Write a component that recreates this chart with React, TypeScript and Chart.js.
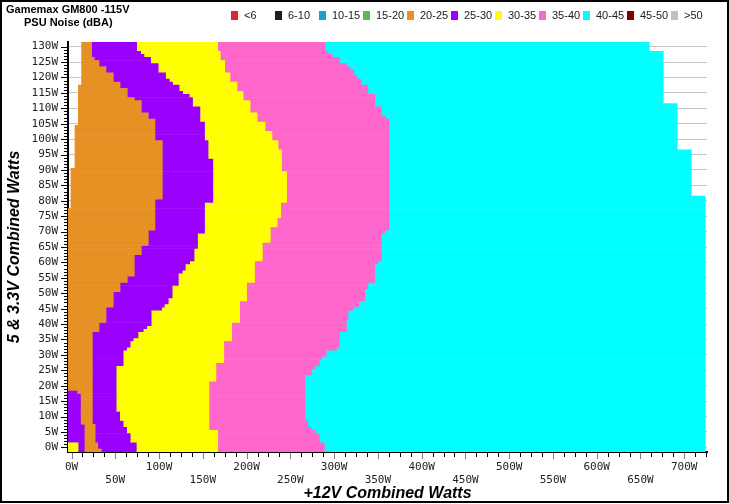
import React, { useEffect, useRef } from 'react';
import { Chart, registerables } from 'chart.js';

Chart.register(...registerables);

// ---------- data ----------
// rows of the 5V & 3.3V combined load (W), bottom to top
const ROW_FIRST = -1;
const ROW_LAST = 131;
const ROWS: number[] = Array.from({ length: ROW_LAST - ROW_FIRST + 1 }, (_, i) => ROW_FIRST + i);

const X_MIN = -4;
const X_MAX = 726;
const X_LABELS = [0, 50, 100, 150, 200, 250, 300, 350, 400, 450, 500, 550, 600, 650, 700];

const NOISE_CLASSES = ['<6', '6-10', '10-15', '15-20', '20-25', '25-30', '30-35', '35-40', '40-45', '45-50', '>50'];
const CLASS_COLORS = ['#e0262b', '#1e1e1e', '#1a9fd0', '#5cb85c', '#e69124', '#9900ff', '#ffff00', '#ff66cc', '#00ffff', '#7f0000', '#c0c0c0'];

// Boundaries on the +12V axis (W), as [from row (W), value] steps going upward.
const yellowLeftEnd: [number, number | null][] = [[-1, 7.5], [2, null]];
const purpleLeftEnd: [number, number | null][] = [[-1, 15.4], [8, 11], [18, 7], [19, null]];
const orangeStart: [number, number][] = [
  [-1, 15.4], [8, 11], [18, 7], [19, -4], [78, -0.6], [91, 4], [105, 7.8], [118, 11.6],
];
const orangeEnd: [number, number][] = [
  [-1, 34], [0, 30], [2, 27], [8, 23.8], [38, 31.4], [41, 39.4], [46, 47.7], [51, 55.4], [54, 63.7],
  [56, 71.7], [63, 79.7], [66, 87.7], [71, 95.3], [81, 103.7], [100, 95.3], [107, 87.7], [109, 79.7],
  [113, 71.7], [114, 63.7], [117, 55.4], [119, 47.7], [122, 39.4], [124, 31.4], [126, 26], [127, 23],
];
const yellowStart: [number, number][] = [
  [-1, 74], [2, 67], [5, 63], [7, 59], [9, 55], [12, 51], [27, 59], [32, 63], [33, 67], [35, 70.5],
  [36, 76], [38, 82], [39, 86], [40, 91], [45, 103], [46, 106], [47, 110.5], [49, 115], [53, 122],
  [57, 126.5], [58, 130], [60, 135], [61, 140], [65, 144], [70, 152], [80, 161.5], [94, 156],
  [100, 152], [106, 146.7], [111, 138.3], [114, 134.5], [115, 127], [116, 123], [118, 115.5],
  [119, 111.7], [120, 107.5], [122, 99], [125, 90.4], [127, 82.8], [128, 79], [129, 74.4],
];
const pinkStart: [number, number][] = [
  [-1, 167], [6, 157], [22, 165], [28, 174], [35, 183], [41, 192], [48, 200], [54, 209], [61, 218],
  [67, 227], [72, 235], [75, 239], [80, 245.7], [90, 240], [97, 236], [100, 229], [103, 221],
  [106, 212], [109, 204], [113, 196], [116, 189], [119, 181], [122, 175], [126, 170], [129, 167],
];
const cyanStart: [number, number][] = [
  [-1, 289], [2, 283], [5, 278], [6, 274], [7, 270], [9, 266.5], [24, 274], [26, 278], [27, 283],
  [29, 286], [30, 291], [32, 303], [33, 306], [38, 314], [42, 316], [45, 322], [46, 328], [48, 335],
  [52, 338.5], [54, 346.5], [60, 350], [61, 354], [70, 358], [71, 362.5], [107, 359], [108, 354],
  [111, 346.5], [115, 338.5], [118, 330.5], [120, 326], [121, 322.5], [123, 318], [124, 314],
  [125, 306.5], [127, 298], [128, 293], [129, 290],
];
const cyanEnd: [number, number][] = [[-1, 724], [82, 708], [97, 692], [112, 676], [129, 660]];

// ---------- helpers ----------
function expand<T>(steps: [number, T][]): T[] {
  return ROWS.map((r) => {
    let v = steps[0][1];
    for (const [from, val] of steps) if (r >= from) v = val;
    return v;
  });
}

const FONT_SANS = '"Liberation Sans", Arial, sans-serif';
const FONT_MONO = '"DejaVu Sans Mono", monospace';

const decorPlugin = {
  id: 'decor',
  beforeDraw(chart: any) {
    const { ctx, width, height } = chart;
    ctx.save();
    ctx.fillStyle = '#ffffff';
    ctx.fillRect(0, 0, width, height);
    ctx.restore();
  },
  afterDraw(chart: any) {
    const { ctx, width, height, chartArea, scales } = chart;
    const x = scales.x;
    const y = scales.y;
    ctx.save();
    // tick marks on y
    ctx.lineWidth = 1;
    ctx.strokeStyle = '#000';
    ROWS.forEach((r, i) => {
      if (r < 0 || r > 130) return;
      const py = Math.round(y.getPixelForValue(i)) + 0.5;
      const len = r % 5 === 0 ? 6 : 3;
      ctx.beginPath();
      ctx.moveTo(chartArea.left - 1 - len, py);
      ctx.lineTo(chartArea.left - 1, py);
      ctx.stroke();
    });
    // tick marks on x
    for (let v = 0; v <= 725; v += 12.5) {
      const px = Math.round(x.getPixelForValue(v)) + 0.5;
      const major = v % 50 === 0;
      ctx.strokeStyle = major ? '#808080' : '#000';
      ctx.beginPath();
      ctx.moveTo(px, chartArea.bottom + 1);
      ctx.lineTo(px, chartArea.bottom + 1 + (major ? 6 : 4));
      ctx.stroke();
    }
    // frame
    ctx.strokeStyle = '#000';
    ctx.lineWidth = 2;
    ctx.strokeRect(1, 1, width - 2, height - 3);
    // title
    ctx.fillStyle = '#000';
    ctx.textBaseline = 'alphabetic';
    ctx.textAlign = 'left';
    ctx.font = `bold 11px ${FONT_SANS}`;
    ctx.fillText('Gamemax GM800 -115V', 6, 12.5);
    ctx.fillText('PSU Noise (dBA)', 24, 25.5);
    // legend
    ctx.font = `11px ${FONT_SANS}`;
    ctx.textBaseline = 'middle';
    NOISE_CLASSES.forEach((label, i) => {
      const bx = 231 + 44 * i;
      ctx.fillStyle = CLASS_COLORS[i];
      ctx.fillRect(bx, 11, 7, 9);
      ctx.fillStyle = '#222';
      ctx.fillText(label, bx + 13, 16);
    });
    ctx.restore();
  },
};

export default function App() {
  const canvasRef = useRef<HTMLCanvasElement | null>(null);

  useEffect(() => {
    const canvas = canvasRef.current;
    if (!canvas) return;

    const yl = expand(yellowLeftEnd);
    const pl = expand(purpleLeftEnd);
    const os = expand(orangeStart);
    const oe = expand(orangeEnd);
    const ys = expand(yellowStart);
    const ps = expand(pinkStart);
    const cs = expand(cyanStart);
    const ce = expand(cyanEnd);

    const segments: Record<string, (number[] | null)[]> = {
      '20-25': ROWS.map((_, k) => [os[k], oe[k]]),
      '25-30': ROWS.map((_, k) => [oe[k], ys[k]]),
      '30-35': ROWS.map((_, k) => [ys[k], ps[k]]),
      '35-40': ROWS.map((_, k) => [ps[k], cs[k]]),
      '40-45': ROWS.map((_, k) => [cs[k], ce[k]]),
    };

    const datasets: any[] = NOISE_CLASSES.map((label, i) => ({
      label,
      data: segments[label] || ROWS.map(() => null),
      backgroundColor: CLASS_COLORS[i],
    }));
    // cells at the left edge of the lowest rows
    datasets.push({
      label: '30-35 (left)',
      data: ROWS.map((_, k) => (yl[k] != null ? [X_MIN, yl[k] as number] : null)),
      backgroundColor: CLASS_COLORS[6],
    });
    datasets.push({
      label: '25-30 (left)',
      data: ROWS.map((_, k) => (pl[k] != null ? [yl[k] != null ? (yl[k] as number) : X_MIN, pl[k] as number] : null)),
      backgroundColor: CLASS_COLORS[5],
    });

    const chart = new Chart(canvas, {
      type: 'bar',
      data: { labels: ROWS.map(String), datasets },
      options: {
        indexAxis: 'y',
        responsive: false,
        animation: false,
        layout: { padding: { top: 42, right: 22, left: 0, bottom: 0 } },
        datasets: {
          bar: { grouped: false, barPercentage: 1, categoryPercentage: 1, borderWidth: 0 },
        },
        plugins: {
          legend: { display: false },
          title: { display: false },
          tooltip: { enabled: false },
        },
        scales: {
          x: {
            type: 'linear',
            position: 'bottom',
            min: X_MIN,
            max: X_MAX,
            afterFit: (s: any) => {
              s.height = 52;
            },
            afterBuildTicks: (s: any) => {
              s.ticks = X_LABELS.map((v) => ({ value: v }));
            },
            ticks: {
              autoSkip: false,
              maxRotation: 0,
              minRotation: 0,
              padding: 9,
              color: '#222',
              font: { family: FONT_MONO, size: 11, lineHeight: 1.18 },
              callback: (v: any) => {
                const n = Number(v);
                return (n / 50) % 2 === 0 ? `${n}W` : ['', `${n}W`];
              },
            },
            grid: { drawOnChartArea: false, drawTicks: false },
            border: { color: '#000', width: 2 },
            title: {
              display: true,
              text: '+12V Combined Watts',
              color: '#000',
              font: { family: FONT_SANS, size: 16, weight: 'bold', style: 'italic', lineHeight: 1.2 },
              padding: { top: 0, bottom: 1 },
            },
          },
          y: {
            type: 'category',
            reverse: true,
            offset: true,
            afterFit: (s: any) => {
              s.width = 68;
            },
            ticks: {
              autoSkip: false,
              padding: 10,
              color: '#222',
              font: { family: FONT_MONO, size: 11, lineHeight: 1 },
              callback: (v: any) => {
                const r = ROWS[Number(v)];
                return r >= 0 && r <= 130 && r % 5 === 0 ? `${r}W` : '';
              },
            },
            grid: {
              offset: false,
              drawTicks: false,
              lineWidth: 1,
              color: (c: any) => {
                const r = ROWS[c.index];
                return r >= 0 && r <= 130 && r % 5 === 0 ? '#c4c4c4' : 'rgba(0,0,0,0)';
              },
            },
            border: { color: '#000', width: 2 },
            title: {
              display: true,
              text: '5 & 3.3V Combined Watts',
              color: '#000',
              font: { family: FONT_SANS, size: 16, weight: 'bold', style: 'italic', lineHeight: 1.2 },
              padding: { top: 5, bottom: 0 },
            },
          },
        },
      } as any,
      plugins: [decorPlugin],
    });

    return () => chart.destroy();
  }, []);

  return (
    <div style={{ position: 'absolute', left: 0, top: 0, width: 729, height: 504, background: '#fff' }}>
      <canvas ref={canvasRef} width={729} height={504} style={{ display: 'block', width: 729, height: 504 }} />
    </div>
  );
}
